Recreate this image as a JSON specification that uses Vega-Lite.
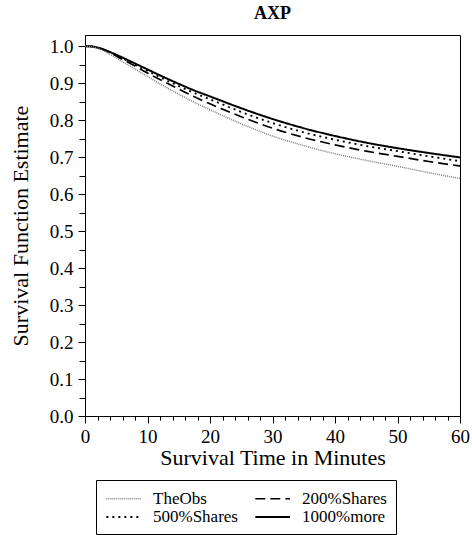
{
  "$schema": "https://vega.github.io/schema/vega-lite/v6.json",
  "width": 375,
  "height": 381,
  "background": "white",
  "padding": {"left": 9, "right": 5, "top": 5, "bottom": 5},
  "title": {"text": "AXP", "font": "Liberation Serif", "fontSize": 18, "fontWeight": "bold", "color": "black", "offset": 12},
  "config": {
    "view": {"stroke": "black", "strokeWidth": 1},
    "axis": {"domainColor": "black", "tickColor": "black", "labelColor": "black", "titleColor": "black", "labelFont": "Liberation Serif", "titleFont": "Liberation Serif", "labelFontSize": 19, "titleFontSize": 22, "titleFontWeight": "normal", "grid": false}
  },
  "data": {"values": [
    {"g":"1000%more","t":0,"s":1.0},{"g":"1000%more","t":1,"s":0.999},{"g":"1000%more","t":2,"s":0.996},{"g":"1000%more","t":3,"s":0.991},{"g":"1000%more","t":4,"s":0.984},{"g":"1000%more","t":6,"s":0.969},{"g":"1000%more","t":8,"s":0.953},{"g":"1000%more","t":10,"s":0.937},{"g":"1000%more","t":12.5,"s":0.917},{"g":"1000%more","t":15,"s":0.898},{"g":"1000%more","t":17.5,"s":0.88},{"g":"1000%more","t":20,"s":0.864},{"g":"1000%more","t":25,"s":0.832},{"g":"1000%more","t":30,"s":0.803},{"g":"1000%more","t":35,"s":0.778},{"g":"1000%more","t":40,"s":0.757},{"g":"1000%more","t":45,"s":0.739},{"g":"1000%more","t":50,"s":0.724},{"g":"1000%more","t":55,"s":0.711},{"g":"1000%more","t":60,"s":0.699},
    {"g":"500%Shares","t":0,"s":1.0},{"g":"500%Shares","t":1,"s":0.999},{"g":"500%Shares","t":2,"s":0.996},{"g":"500%Shares","t":3,"s":0.99},{"g":"500%Shares","t":4,"s":0.983},{"g":"500%Shares","t":6,"s":0.967},{"g":"500%Shares","t":8,"s":0.95},{"g":"500%Shares","t":10,"s":0.933},{"g":"500%Shares","t":12.5,"s":0.912},{"g":"500%Shares","t":15,"s":0.892},{"g":"500%Shares","t":17.5,"s":0.873},{"g":"500%Shares","t":20,"s":0.856},{"g":"500%Shares","t":25,"s":0.822},{"g":"500%Shares","t":30,"s":0.792},{"g":"500%Shares","t":35,"s":0.767},{"g":"500%Shares","t":40,"s":0.747},{"g":"500%Shares","t":45,"s":0.73},{"g":"500%Shares","t":50,"s":0.716},{"g":"500%Shares","t":55,"s":0.702},{"g":"500%Shares","t":60,"s":0.689},
    {"g":"200%Shares","t":0,"s":1.0},{"g":"200%Shares","t":1,"s":0.999},{"g":"200%Shares","t":2,"s":0.996},{"g":"200%Shares","t":3,"s":0.99},{"g":"200%Shares","t":4,"s":0.982},{"g":"200%Shares","t":6,"s":0.964},{"g":"200%Shares","t":8,"s":0.946},{"g":"200%Shares","t":10,"s":0.927},{"g":"200%Shares","t":12.5,"s":0.905},{"g":"200%Shares","t":15,"s":0.884},{"g":"200%Shares","t":17.5,"s":0.863},{"g":"200%Shares","t":20,"s":0.844},{"g":"200%Shares","t":25,"s":0.809},{"g":"200%Shares","t":30,"s":0.778},{"g":"200%Shares","t":35,"s":0.753},{"g":"200%Shares","t":40,"s":0.733},{"g":"200%Shares","t":45,"s":0.716},{"g":"200%Shares","t":50,"s":0.702},{"g":"200%Shares","t":55,"s":0.688},{"g":"200%Shares","t":60,"s":0.676},
    {"g":"TheObs","t":0,"s":1.0},{"g":"TheObs","t":1,"s":0.998},{"g":"TheObs","t":2,"s":0.994},{"g":"TheObs","t":3,"s":0.987},{"g":"TheObs","t":4,"s":0.978},{"g":"TheObs","t":6,"s":0.958},{"g":"TheObs","t":8,"s":0.938},{"g":"TheObs","t":10,"s":0.918},{"g":"TheObs","t":12.5,"s":0.893},{"g":"TheObs","t":15,"s":0.87},{"g":"TheObs","t":17.5,"s":0.848},{"g":"TheObs","t":20,"s":0.828},{"g":"TheObs","t":25,"s":0.79},{"g":"TheObs","t":30,"s":0.757},{"g":"TheObs","t":35,"s":0.731},{"g":"TheObs","t":40,"s":0.709},{"g":"TheObs","t":45,"s":0.691},{"g":"TheObs","t":50,"s":0.675},{"g":"TheObs","t":55,"s":0.658},{"g":"TheObs","t":60,"s":0.642}
  ]},
  "layer": [
    {
      "mark": {"type": "line", "interpolate": "monotone", "clip": true},
      "encoding": {
        "x": {"field": "t", "type": "quantitative", "scale": {"domain": [0, 60], "nice": false, "zero": false},
              "axis": {"orient": "bottom", "values": [0, 10, 20, 30, 40, 50, 60], "tickSize": 7, "labelPadding": 4, "title": "Survival Time in Minutes", "titlePadding": 1, "labelFlush": false}},
        "y": {"field": "s", "type": "quantitative", "scale": {"domain": [0, 1.03], "nice": false},
              "axis": {"orient": "left", "values": [0, 0.1, 0.2, 0.3, 0.4, 0.5, 0.6, 0.7, 0.8, 0.9, 1.0], "format": ".1f", "tickSize": 7, "labelPadding": 5, "title": "Survival Function Estimate", "titlePadding": 17, "labelFlush": false}},
        "color": {"field": "g", "type": "nominal", "title": null,
                  "scale": {"domain": ["TheObs", "200%Shares", "500%Shares", "1000%more"], "range": ["#808080", "black", "black", "black"]},
                  "legend": {"orient": "none", "legendX": 11, "legendY": 445, "columns": 2, "columnPadding": 13, "rowPadding": 0, "padding": 9, "strokeColor": "black", "symbolType": "M-1,0H3", "symbolSize": 300, "labelFont": "Liberation Serif", "labelFontSize": 17, "labelColor": "black", "labelOffset": 28, "direction": "horizontal"}},
        "strokeDash": {"field": "g", "type": "nominal", "title": null,
                  "scale": {"domain": ["TheObs", "200%Shares", "500%Shares", "1000%more"], "range": [[1, 1], [10, 5], [2, 4], [1, 0]]}},
        "strokeWidth": {"field": "g", "type": "nominal", "title": null,
                  "scale": {"domain": ["TheObs", "200%Shares", "500%Shares", "1000%more"], "range": [1.5, 2, 2, 2]}}
      }
    },
    {
      "mark": {"type": "line", "opacity": 0},
      "encoding": {
        "detail": {"field": "g"},
        "x": {"field": "t", "type": "quantitative", "axis": {"orient": "bottom", "values": [2,4,6,8,12,14,16,18,22,24,26,28,32,34,36,38,42,44,46,48,52,54,56,58], "tickSize": 4, "labels": false, "domain": false, "title": null}},
        "y": {"field": "s", "type": "quantitative", "axis": {"orient": "left", "values": [0.05,0.15,0.25,0.35,0.45,0.55,0.65,0.75,0.85,0.95], "tickSize": 6, "labels": false, "domain": false, "title": null}}
      }
    }
  ],
  "resolve": {"axis": {"x": "independent", "y": "independent"}}
}
